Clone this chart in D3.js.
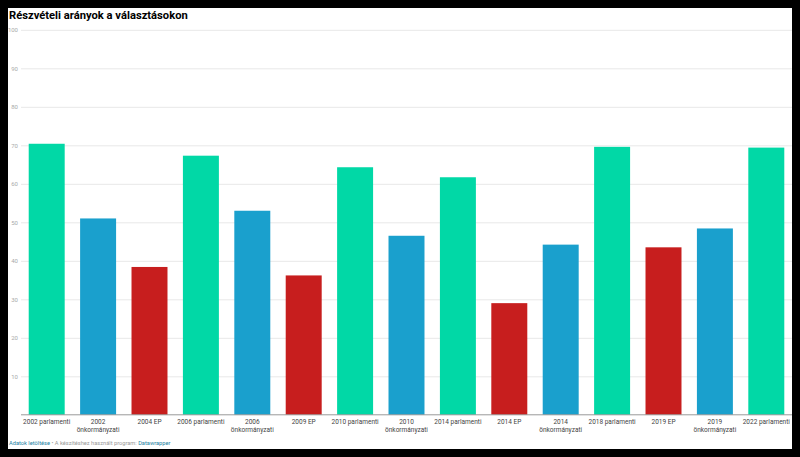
<!DOCTYPE html>
<html>
<head>
<meta charset="utf-8">
<script src="https://cdn.jsdelivr.net/npm/d3@7"></script>
<style>
  html, body { margin: 0; padding: 0; background: #000; }
  #chart { width: 800px; height: 457px; }
  text { font-family: Roboto, "Noto Sans", sans-serif; }
</style>
</head>
<body>
<div id="chart"></div>
<script>
// data
const categories = [
    "2002 parlamenti", "2002\nönkormányzati", "2004 EP", "2006 parlamenti", "2006\nönkormányzati",
    "2009 EP", "2010 parlamenti", "2010\nönkormányzati", "2014 parlamenti", "2014 EP",
    "2014\nönkormányzati", "2018 parlamenti", "2019 EP", "2019\nönkormányzati", "2022 parlamenti"
];
const turnout = [70.4, 51.0, 38.4, 67.3, 53.0, 36.2, 64.3, 46.5, 61.7, 29.0, 44.2, 69.6, 43.5, 48.4, 69.4];
const electionType = ["parl", "onk", "ep", "parl", "onk", "ep", "parl", "onk", "parl", "ep", "onk", "parl", "ep", "onk", "parl"];
const yTicks = [10, 20, 30, 40, 50, 60, 70, 80, 90, 100];

const colors = { parl: "#01d8a6", onk: "#1aa0cd", ep: "#c71e1e" };

const width = 800, height = 457;
const svg = d3.select("#chart").append("svg")
    .attr("width", width)
    .attr("height", height);

// white card on black
svg.append("rect")
    .attr("x", 8).attr("y", 8)
    .attr("width", 784).attr("height", 441)
    .attr("fill", "#fff");

svg.append("text")
    .attr("x", 9).attr("y", 19)
    .style("font-size", "11.2px")
    .style("font-weight", "bold")
    .attr("fill", "#000")
    .text("Részvételi arányok a választásokon");

const margin = { left: 21, right: 792, top: 29.8, bottom: 414.8 };

const x = d3.scaleBand()
    .domain(categories)
    .range([margin.left, margin.right])
    .paddingInner(0.3)
    .paddingOuter(0.15);

const y = d3.scaleLinear()
    .domain([0, 100])
    .range([margin.bottom, margin.top]);

// gridlines + labels
const grid = svg.append("g")
    .attr("transform", `translate(${margin.left},0)`)
    .call(d3.axisLeft(y).tickValues(yTicks).tickSize(-(margin.right - margin.left)).tickPadding(3));
grid.select(".domain").remove();
grid.selectAll(".tick line").attr("stroke", "#e8e8e8").attr("stroke-width", 1);
grid.selectAll(".tick text")
    .attr("fill", "#aaa")
    .style("font-size", "6px")
    .style("font-family", "Roboto, sans-serif");

// bars
svg.append("g").selectAll("rect")
    .data(turnout)
    .enter().append("rect")
    .attr("x", (d, i) => x(categories[i]))
    .attr("y", d => y(d))
    .attr("width", x.bandwidth())
    .attr("height", d => y(0) - y(d))
    .attr("fill", (d, i) => colors[electionType[i]]);

// baseline
svg.append("line")
    .attr("x1", margin.left).attr("x2", margin.right)
    .attr("y1", y(0)).attr("y2", y(0))
    .attr("stroke", "#999").attr("stroke-width", 1);

// category labels
const labels = svg.append("g").selectAll("text")
    .data(categories)
    .enter().append("text")
    .attr("x", d => x(d) + x.bandwidth() / 2)
    .attr("y", y(0) + 9)
    .attr("text-anchor", "middle")
    .attr("fill", "#444")
    .style("font-size", "6.5px");
labels.each(function(d) {
    const lines = d.split("\n");
    d3.select(this).selectAll("tspan")
        .data(lines)
        .enter().append("tspan")
        .attr("x", x(d) + x.bandwidth() / 2)
        .attr("dy", (l, j) => j === 0 ? 0 : 7.8)
        .text(l => l);
});

// footer
const foot = svg.append("text")
    .attr("x", 9).attr("y", 445)
    .style("font-size", "5.7px");
foot.append("tspan").attr("fill", "#1d81a2").text("Adatok letöltése");
foot.append("tspan").attr("fill", "#999").text(" • A készítéshez használt program: ");
foot.append("tspan").attr("fill", "#1d81a2").text("Datawrapper");
</script>
</body>
</html>
